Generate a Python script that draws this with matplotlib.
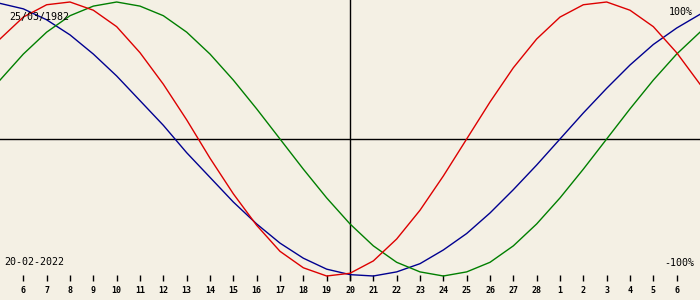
import matplotlib
matplotlib.use("Agg")
import matplotlib.pyplot as plt

# Day offsets relative to the chart's centre date (20 Feb 2022)
day_offsets = list(range(-15, 16))

# Tick days and their labels (6 Feb .. 6 Mar)
tick_offsets = list(range(-14, 15))
tick_labels = [str(d) for d in range(6, 29)] + [str(d) for d in range(1, 7)]

# Biorhythm values in percent, read per day
physical = [73, 89, 98, 100, 94, 82, 63, 40, 14, -14, -40, -63, -82, -94, -100,
            -98, -89, -73, -52, -27, 0, 27, 52, 73, 89, 98, 100, 94, 82, 63, 40]
emotional = [43, 62, 78, 90, 97, 100, 97, 90, 78, 62, 43, 22, 0, -22, -43, -62,
             -78, -90, -97, -100, -97, -90, -78, -62, -43, -22, 0, 22, 43, 62, 78]
intellectual = [99, 95, 87, 76, 62, 46, 28, 10, -10, -28, -46, -62, -76, -87, -95,
                -99, -100, -97, -91, -81, -69, -54, -37, -19, 0, 19, 37, 54, 69, 81, 91]

birth_label = "25/03/1982"
date_label = "20-02-2022"
top_label = "100%"
bottom_label = "-100%"

BG = "#F4F0E4"
W, H = 700, 300
fig = plt.figure(figsize=(W / 100, H / 100), dpi=100, facecolor=BG)

ax_h = 281
ax = fig.add_axes([0, 1 - ax_h / H, 1, ax_h / H])
ax.set_facecolor(BG)

center_px = 139.0
amp = 1.37  # px per percent
ax.set_xlim(-15, 15)
ax.set_ylim((center_px - ax_h) / amp, center_px / amp)

for s in ax.spines.values():
    s.set_visible(False)

ax.axhline(0, color="black", lw=1.0, zorder=1)
ax.axvline(0, color="black", lw=1.0, zorder=1)

ax.plot(day_offsets, intellectual, color="#000090", lw=1.0, zorder=3)
ax.plot(day_offsets, emotional, color="#007F00", lw=1.0, zorder=3)
ax.plot(day_offsets, physical, color="#DD0000", lw=1.0, zorder=4)

ax.set_yticks([])
ax.set_xticks(tick_offsets)
ax.set_xticklabels(tick_labels, fontfamily="DejaVu Sans Mono", fontsize=6,
                   fontweight="bold")
ax.tick_params(axis="x", direction="in", length=4.5, width=1.0, color="black",
               pad=3.5)

mono = dict(family="DejaVu Sans Mono", fontsize=7.2, color="black")
fig.text(9 / W, 1 - 17 / H, birth_label, ha="left", va="center", **mono)
fig.text(693 / W, 1 - 12 / H, top_label, ha="right", va="center", **mono)
fig.text(4 / W, 1 - 262 / H, date_label, ha="left", va="center", **mono)
fig.text(694 / W, 1 - 262.5 / H, bottom_label, ha="right", va="center", **mono)

fig.savefig("out.png", dpi=100, facecolor=BG)
